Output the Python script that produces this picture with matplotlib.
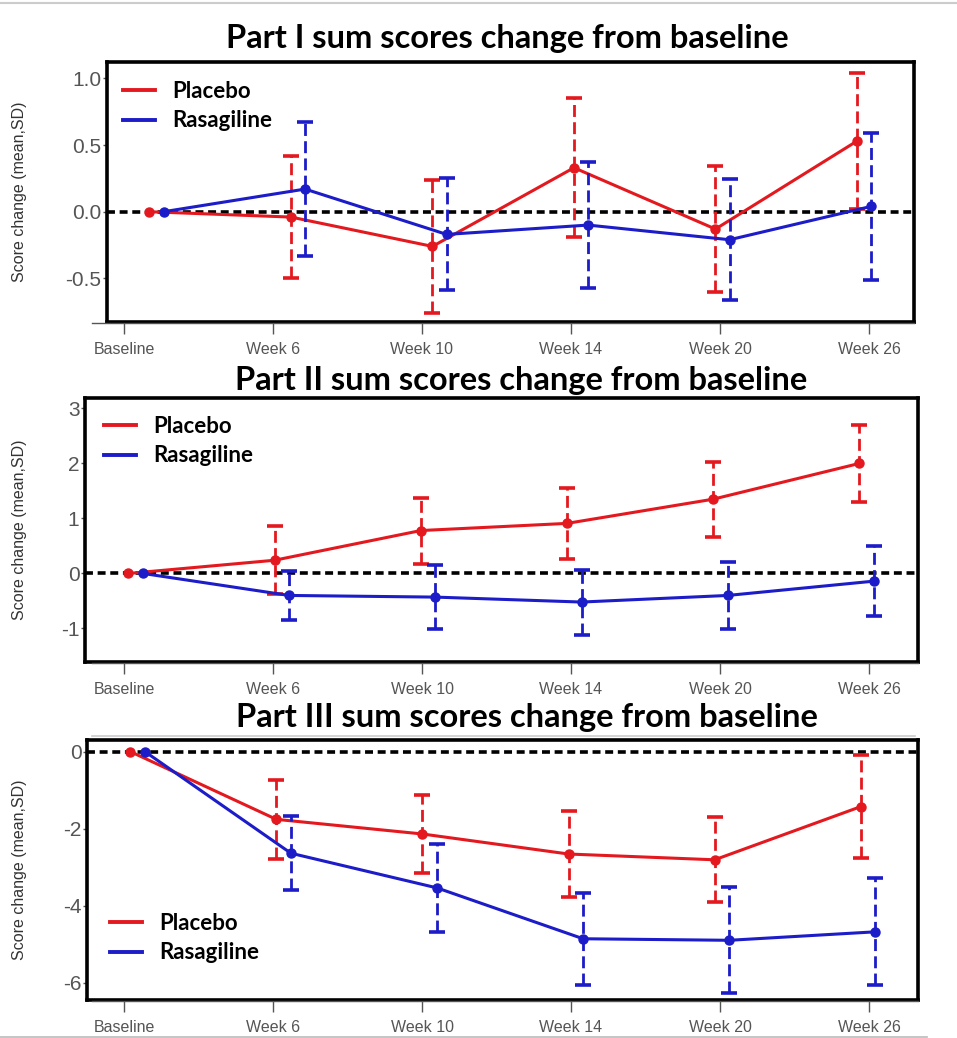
import numpy as np
import matplotlib
matplotlib.use('Agg')
import matplotlib.pyplot as plt
from matplotlib.lines import Line2D

# ---- data ----
weeks = ['Baseline', 'Week 6', 'Week 10', 'Week 14', 'Week 20', 'Week 26']

p1_placebo = [0, -0.04, -0.26, 0.33, -0.13, 0.53]
p1_placebo_sd = [np.nan, 0.46, 0.50, 0.52, 0.47, 0.51]
p1_rasagiline = [0, 0.17, -0.17, -0.10, -0.21, 0.04]
p1_rasagiline_sd = [np.nan, 0.50, 0.42, 0.47, 0.455, 0.55]

p2_placebo = [0, 0.24, 0.78, 0.91, 1.35, 2.0]
p2_placebo_sd = [np.nan, 0.62, 0.60, 0.65, 0.68, 0.70]
p2_rasagiline = [0, -0.40, -0.43, -0.52, -0.40, -0.14]
p2_rasagiline_sd = [np.nan, 0.445, 0.575, 0.59, 0.615, 0.64]

p3_placebo = [0, -1.76, -2.14, -2.66, -2.81, -1.43]
p3_placebo_sd = [np.nan, 1.02, 1.02, 1.11, 1.10, 1.34]
p3_rasagiline = [0, -2.64, -3.54, -4.86, -4.90, -4.68]
p3_rasagiline_sd = [np.nan, 0.96, 1.14, 1.20, 1.38, 1.39]

titles = ['Part I sum scores change from baseline',
          'Part II sum scores change from baseline',
          'Part III sum scores change from baseline']
groups = ['Placebo', 'Rasagiline']

RED = '#e3191f'
BLUE = '#1c1cc8'
GRAY = '#555555'
TITLE_FONT = ['Lato', 'DejaVu Sans']
TICK_FONT = ['Liberation Sans', 'DejaVu Sans']

W, H = 957, 1038
fig = plt.figure(figsize=(W / 100, H / 100), dpi=100)


def px_rect(l, t, r, b):
    return [l / W, 1 - b / H, (r - l) / W, (b - t) / H]


def draw_panel(box, xlim, ylim, yticks, ylabels, placebo, placebo_sd, rasa, rasa_sd,
               title, title_xy, leg_xy):
    l, t, r, b = box
    ax = fig.add_axes(px_rect(l, t, r, b))
    x = np.arange(len(weeks))

    ax.axhline(0, color='black', lw=2.6, ls=(0, (2.2, 1.3)), zorder=1)
    for vals, sd, col, off, z in [(placebo, placebo_sd, RED, -0.05, 3),
                                  (rasa, rasa_sd, BLUE, 0.05, 4)]:
        eb = ax.errorbar(x + off, vals, yerr=sd, color=col, lw=2.2, marker='o', ms=6.5,
                         elinewidth=2.0, capsize=6, capthick=2.6, zorder=z)
        eb[2][0].set_linestyle((0, (4.3, 1.9)))

    ax.set_xlim(xlim)
    ax.set_ylim(ylim)
    ax.set_xticks([])
    ax.set_yticks(yticks)
    ax.set_yticklabels(ylabels, fontfamily=TICK_FONT)
    ax.tick_params(axis='y', length=3, width=1, color=GRAY, labelsize=15,
                   labelcolor=GRAY, pad=1)
    for s in ax.spines.values():
        s.set_linewidth(2.6)
        s.set_color('black')
    ax.set_ylabel('Score change (mean,SD)', fontfamily=TICK_FONT, fontsize=11.5,
                  color='#333333')
    ax.yaxis.set_label_coords((27 - l) / (r - l), 0.5)

    # detached x axis with the week labels
    tax = fig.add_axes(px_rect(92, b, r, b + 1))
    tax.patch.set_visible(False)
    tax.set_xlim(-(124 - 92) / 149, 5 + (r - 869) / 149)
    tax.set_yticks([])
    for side in ['top', 'left', 'right']:
        tax.spines[side].set_visible(False)
    tax.spines['bottom'].set_color(GRAY)
    tax.spines['bottom'].set_linewidth(1)
    tax.set_xticks(range(len(weeks)))
    tax.set_xticklabels(weeks, fontfamily=TICK_FONT)
    tax.tick_params(axis='x', length=8, width=1, color=GRAY, labelsize=11.5,
                    labelcolor=GRAY, pad=6)

    handles = [Line2D([], [], color=RED, lw=2.8), Line2D([], [], color=BLUE, lw=2.8)]
    ax.legend(handles, groups, loc='upper left',
              bbox_to_anchor=(leg_xy[0] / W, 1 - leg_xy[1] / H),
              bbox_transform=fig.transFigure, frameon=False,
              prop={'family': TITLE_FONT, 'weight': 'bold', 'size': 16},
              handlelength=1.45, handletextpad=0.75, labelspacing=0.38,
              borderpad=0, borderaxespad=0)

    fig.text(title_xy[0] / W, 1 - title_xy[1] / H, title, ha='center', va='baseline',
             fontfamily=TITLE_FONT, fontweight='bold', fontsize=23.5)
    return ax


draw_panel((107, 62, 914, 322), (-0.35, 5.353), (-0.827, 1.123),
           [-0.5, 0, 0.5, 1.0], ['-0.5', '0.0', '0.5', '1.0'],
           p1_placebo, p1_placebo_sd, p1_rasagiline, p1_rasagiline_sd,
           titles[0], (507, 48), (123, 81))

draw_panel((85, 398, 918, 662), (-0.347, 5.352), (-1.61, 3.19),
           [-1, 0, 1, 2, 3], ['-1', '0', '1', '2', '3'],
           p2_placebo, p2_placebo_sd, p2_rasagiline, p2_rasagiline_sd,
           titles[1], (521, 390), (104, 416))

draw_panel((87, 740, 918, 1000), (-0.346, 5.342), (-6.45, 0.30),
           [-6, -4, -2, 0], ['-6', '-4', '-2', '0'],
           p3_placebo, p3_placebo_sd, p3_rasagiline, p3_rasagiline_sd,
           titles[2], (527, 727), (110, 913))

# thin grey borders of the pasted image
fig.add_artist(Line2D([0, 1], [1 - 3 / H, 1 - 3 / H], color='#cccccc', lw=1.5))
fig.add_artist(Line2D([0, 927 / W], [1 - 1036.5 / H] * 2, color='#bbbbbb', lw=1.2))
fig.add_artist(Line2D([92 / W, 915 / W], [1 - 736 / H] * 2, color='#cccccc', lw=1.2))

fig.savefig('out.png', dpi=100)
